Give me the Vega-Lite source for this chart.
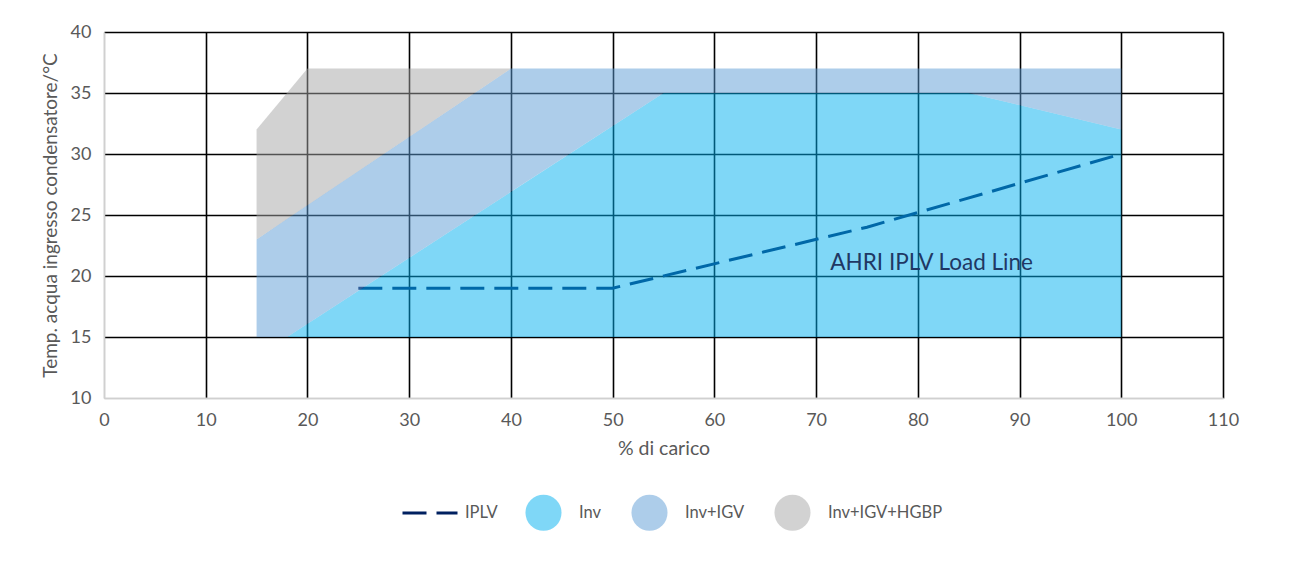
{
  "$schema": "https://vega.github.io/schema/vega-lite/v6.json",
  "width": 1119,
  "height": 366,
  "autosize": {"type": "none"},
  "padding": {"left": 104, "top": 32, "right": 72, "bottom": 169},
  "background": "white",
  "config": {
    "font": "Lato",
    "view": {"stroke": null},
    "axis": {
      "labelFont": "Lato",
      "titleFont": "Lato",
      "labelColor": "#595959",
      "titleColor": "#595959",
      "labelFontSize": 18,
      "titleFontSize": 19.5,
      "titleFontWeight": "normal",
      "labelFlush": false,
      "ticks": false,
      "domainColor": "#d0d0d0",
      "domainWidth": 1.5,
      "gridWidth": 1.6
    },
    "legend": {
      "labelFont": "Lato",
      "labelFontSize": 16.5,
      "labelColor": "#595959"
    }
  },
  "datasets": {
    "bands": [
      {"series": "Inv", "x": 18, "lo": 15, "hi": 15},
      {"series": "Inv", "x": 55, "lo": 15, "hi": 35},
      {"series": "Inv", "x": 85, "lo": 15, "hi": 35},
      {"series": "Inv", "x": 100, "lo": 15, "hi": 32},
      {"series": "Inv+IGV", "x": 15, "lo": 15, "hi": 23},
      {"series": "Inv+IGV", "x": 18, "lo": 15, "hi": 24.7},
      {"series": "Inv+IGV", "x": 40, "lo": 26.9, "hi": 37},
      {"series": "Inv+IGV", "x": 55, "lo": 35, "hi": 37},
      {"series": "Inv+IGV", "x": 85, "lo": 35, "hi": 37},
      {"series": "Inv+IGV", "x": 100, "lo": 32, "hi": 37},
      {"series": "Inv+IGV+HGBP", "x": 15, "lo": 23, "hi": 32},
      {"series": "Inv+IGV+HGBP", "x": 20, "lo": 25.8, "hi": 37},
      {"series": "Inv+IGV+HGBP", "x": 40, "lo": 37, "hi": 37}
    ],
    "iplv": [
      {"series": "IPLV", "x": 25, "y": 19},
      {"series": "IPLV", "x": 50, "y": 19},
      {"series": "IPLV", "x": 75, "y": 24},
      {"series": "IPLV", "x": 100, "y": 30}
    ],
    "label": [
      {"x": 71.4, "y": 21.1, "text": "AHRI IPLV Load Line"}
    ]
  },
  "layer": [
    {
      "data": {"name": "iplv"},
      "mark": {"type": "line", "interpolate": "linear", "strokeWidth": 3, "strokeDash": [24, 10]},
      "encoding": {
        "x": {
          "field": "x", "type": "quantitative",
          "scale": {"domain": [0, 110], "nice": false},
          "axis": {
            "values": [0, 10, 20, 30, 40, 50, 60, 70, 80, 90, 100, 110],
            "title": "% di carico",
            "labelPadding": 13,
            "titlePadding": 10,
            "gridColor": {"condition": {"test": "datum.value === 0", "value": "#d0d0d0"}, "value": "black"}
          }
        },
        "y": {
          "field": "y", "type": "quantitative",
          "scale": {"domain": [10, 40], "nice": false},
          "axis": {
            "values": [10, 15, 20, 25, 30, 35, 40],
            "title": "Temp. acqua ingresso condensatore/°C",
            "titleFontSize": 19,
            "labelPadding": 13,
            "titlePadding": 10,
            "gridColor": {"condition": {"test": "datum.value === 10", "value": "#d0d0d0"}, "value": "black"}
          }
        },
        "stroke": {
          "field": "series", "type": "nominal",
          "scale": {"domain": ["IPLV"], "range": ["#002060"]},
          "legend": {
            "orient": "none",
            "direction": "horizontal",
            "legendX": 297,
            "legendY": 452,
            "title": null,
            "symbolType": "stroke",
            "symbolSize": 3025,
            "symbolStrokeWidth": 3,
            "symbolDash": [24, 10],
            "labelOffset": 6
          }
        }
      }
    },
    {
      "data": {"name": "bands"},
      "mark": {"type": "area", "fillOpacity": 0.5},
      "encoding": {
        "x": {"field": "x", "type": "quantitative"},
        "y": {"field": "lo", "type": "quantitative"},
        "y2": {"field": "hi"},
        "fill": {
          "field": "series", "type": "nominal",
          "scale": {
            "domain": ["Inv", "Inv+IGV", "Inv+IGV+HGBP"],
            "range": ["#00B0F0", "#5B9BD5", "#A5A5A5"]
          },
          "legend": {
            "orient": "none",
            "direction": "horizontal",
            "legendX": 421,
            "legendY": 462,
            "title": null,
            "symbolType": "circle",
            "symbolSize": 1300,
            "symbolOpacity": 0.5,
            "symbolStrokeWidth": 0,
            "labelOffset": 17,
            "columnPadding": 29
          }
        }
      }
    },
    {
      "data": {"name": "label"},
      "mark": {"type": "text", "align": "left", "baseline": "middle", "font": "Lato", "fontSize": 22.5, "color": "#1f3864"},
      "encoding": {
        "x": {"field": "x", "type": "quantitative"},
        "y": {"field": "y", "type": "quantitative"},
        "text": {"field": "text"}
      }
    }
  ]
}
